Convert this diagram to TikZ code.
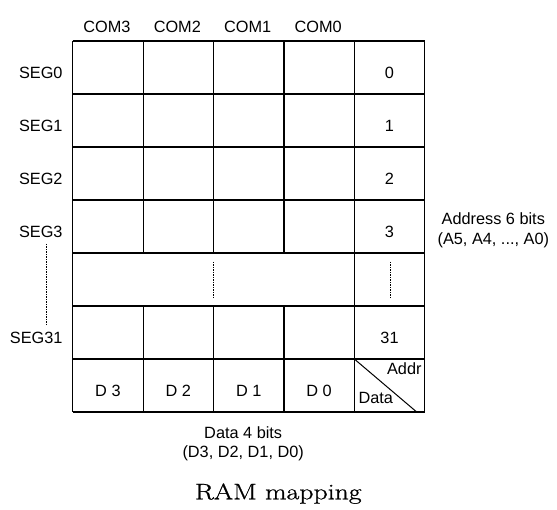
\documentclass[tikz,border=0pt]{standalone}
\usepackage{fontspec}
\setmainfont{Liberation Sans}
\newfontfamily\lmserif[FakeBold=0.8]{Latin Modern Roman}
\begin{document}
\begin{tikzpicture}[x=1pt,y=-1pt,
  lbl/.style={font=\fontsize{16.3}{19.4}\selectfont, inner sep=0pt, anchor=base},
  grid line/.style={line width=1.2pt},
  dotline/.style={line width=1pt, dash pattern=on 1.5pt off 1pt}]
\useasboundingbox (0,0) rectangle (557,510);
\def\L{72.7}\def\W{70.4}\def\T{41}\def\H{53}
% horizontal lines
\foreach \j in {0,...,7} { \draw[grid line] (\L,{\T+\j*\H}) -- ({\L+5*\W},{\T+\j*\H}); }
% outer and address-column verticals (full height)
\foreach \i in {0,4,5} { \draw[grid line] ({\L+\i*\W},\T) -- ({\L+\i*\W},{\T+7*\H}); }
% inner verticals, interrupted in the gap row
\foreach \i in {1,2,3} {
  \draw[grid line] ({\L+\i*\W},\T) -- ({\L+\i*\W},{\T+4*\H});
  \draw[grid line] ({\L+\i*\W},{\T+5*\H}) -- ({\L+\i*\W},{\T+7*\H});
}
\coordinate (ac) at ({\L+4*\W},{\T+6*\H});
\coordinate (ad) at ({\L+5*\W-8},{\T+7*\H});
\draw[line width=1pt] (ac) -- (ad);
% column headers
\foreach \n [count=\i from 0] in {COM3,COM2,COM1,COM0}
  \node[lbl] (c\i) at ({\L+(\i+0.5)*\W-1},32.7) {\n};
% row labels
\foreach \n/\r in {SEG0/0,SEG1/1,SEG2/2,SEG3/3,SEG31/5}
  \node[lbl,anchor=base east] (s\r) at ({\L-10},{\T+(\r+0.5)*\H+10.8}) {\n};
\foreach \n/\r in {0/0,1/1,2/2,3/3,31/5}
  \node[lbl] (a\r) at ({\L+4.5*\W},{\T+(\r+0.5)*\H+10.8}) {\n};
% dotted continuation lines
\coordinate (d1) at (46,244); \coordinate (d2) at (46,325);
\draw[dotline] (d1) -- (d2);
\coordinate (m1) at ({\L+2*\W},262); \coordinate (m2) at ({\L+2*\W},298);
\draw[dotline] (m1) -- (m2);
\coordinate (r1) at (390,262); \coordinate (r2) at (390,298);
\draw[dotline] (r1) -- (r2);
% data row
\foreach \n [count=\i from 0] in {D 3,D 2,D 1,D 0}
  \node[lbl] (dd\i) at ({\L+(\i+0.5)*\W},{\T+6.5*\H+10.8}) {\n};
\node[lbl,anchor=base east] (addr) at (421.7,375) {Addr};
\node[lbl,anchor=base west] (data) at (358.3,404) {Data};
% side texts
\node[lbl] (addrtxt1) at (493.3,225) {Address 6 bits};
\node[lbl] (addrtxt2) at (493.3,244.4) {(A5, A4, ..., A0)};
\node[lbl] (datatxt1) at (243.2,438.3) {Data 4 bits};
\node[lbl] (datatxt2) at (243.2,457.7) {(D3, D2, D1, D0)};
\node[inner sep=0pt,anchor=base,font=\lmserif\fontsize{22.4}{26}\selectfont] (title) at (278.3,499.3) {\scalebox{1.24}[1]{RAM mapping}};
\end{tikzpicture}
\end{document}
